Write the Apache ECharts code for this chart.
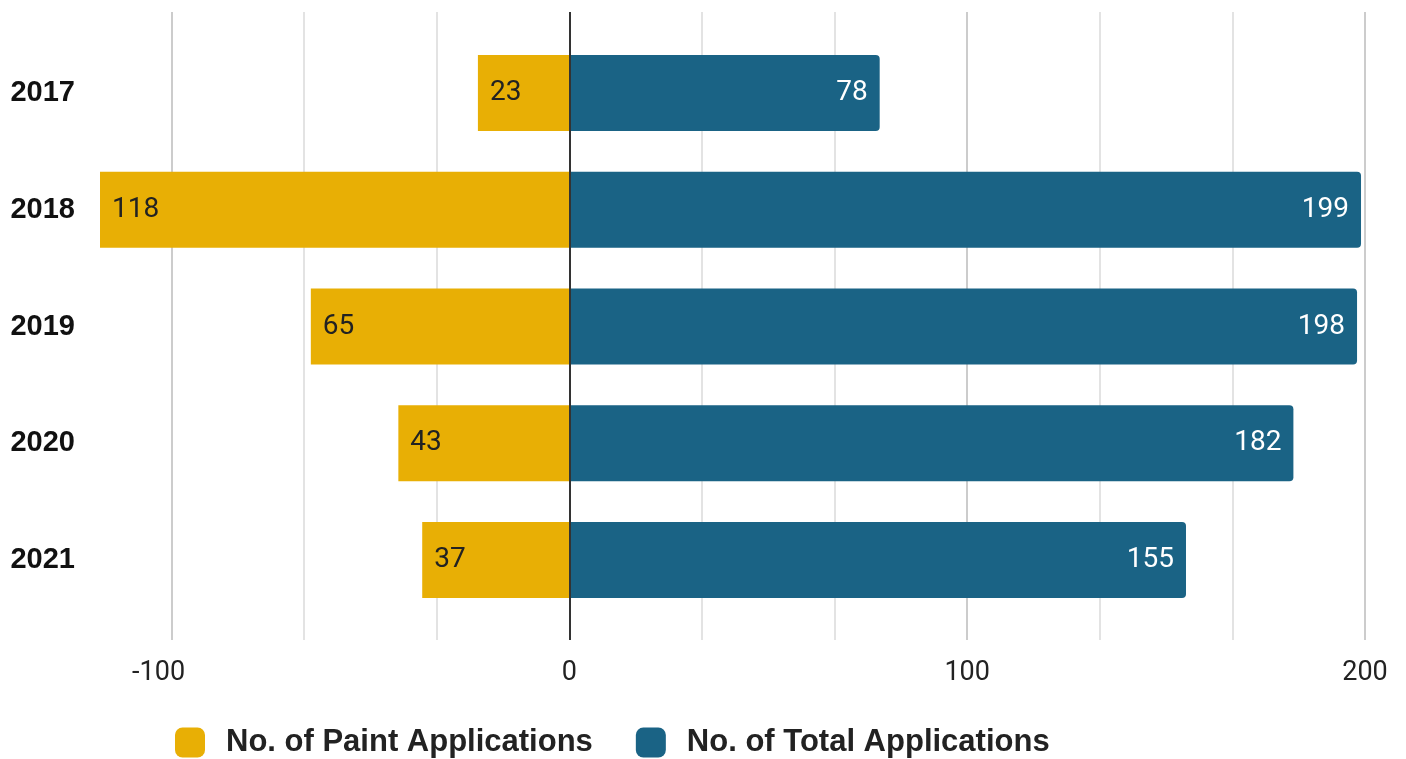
<!DOCTYPE html>
<html>
<head>
<meta charset="utf-8">
<script src="https://cdn.jsdelivr.net/npm/echarts@6/dist/echarts.min.js"></script>
<style>html,body{margin:0;padding:0;background:#fff}#c{width:1406px;height:759px}</style>
</head>
<body>
<div id="c"></div>
<script>
const years = ['2017', '2018', '2019', '2020', '2021'];
const paintApps = [23, 118, 65, 43, 37];
const totalApps = [78, 199, 198, 182, 155];
const majorTicks = [-100, 0, 100, 200];
const gridTicks = [-100, -200 / 3, -100 / 3, 0, 100 / 3, 200 / 3, 100, 400 / 3, 500 / 3, 200];

const xMin = -118, xMax = 200;
const chart = echarts.init(document.getElementById('c'));
chart.setOption({
  animation: false,
  grid: [
    { left: 100, right: 41, top: 34.6, bottom: 140.6, containLabel: false },
    { left: 100, right: 41, top: 12, bottom: 119, containLabel: false }
  ],
  legend: {
    data: ['No. of Paint Applications', 'No. of Total Applications'],
    left: 175, top: 727, padding: 0,
    itemWidth: 30, itemHeight: 30, itemGap: 43,
    icon: 'roundRect',
    textStyle: { fontFamily: 'Liberation Sans', fontWeight: 'bold', fontSize: 31, color: '#222', padding: [0, 0, 0, 16] }
  },
  xAxis: [
    { gridIndex: 0, type: 'value', min: xMin, max: xMax, show: false },
    {
      gridIndex: 1, type: 'value', min: xMin, max: xMax,
      axisLine: { show: false }, axisTick: { show: false, customValues: gridTicks },
      axisLabel: { customValues: majorTicks, margin: 20, fontFamily: 'Roboto', fontSize: 27, color: '#222',
        formatter: v => v < 0 ? '{neg|' + v + '}' : '' + v,
        rich: { neg: { fontFamily: 'Roboto', fontSize: 27, color: '#222', padding: [0, 26, 0, 0] } } },
      splitLine: { show: true, showMinLine: true, lineStyle: { color: ['#cccccc', '#e3e3e3', '#e3e3e3'], width: 2 } }
    }
  ],
  yAxis: [
    {
      gridIndex: 0, type: 'category', data: years, inverse: true,
      axisLine: { show: false, onZero: false }, axisTick: { show: false },
      axisLabel: { margin: 25, fontFamily: 'Liberation Sans', fontWeight: 'bold', fontSize: 29, color: '#111' }
    },
    { gridIndex: 1, type: 'value', min: 0, max: 1, show: false }
  ],
  series: [
    {
      name: 'No. of Paint Applications', type: 'bar', stack: 'a', xAxisIndex: 0, yAxisIndex: 0,
      data: paintApps.map(v => -v), barWidth: '65%',
      itemStyle: { color: '#E8AF05' },
      label: { show: true, position: 'insideLeft', distance: 12, formatter: p => Math.abs(p.value),
        fontFamily: 'Roboto', fontSize: 28, color: '#222' }
    },
    {
      name: 'No. of Total Applications', type: 'bar', stack: 'a', xAxisIndex: 0, yAxisIndex: 0,
      data: totalApps, barWidth: '65%',
      itemStyle: { color: '#1A6385', borderRadius: [0, 4, 4, 0] },
      label: { show: true, position: 'insideRight', distance: 12,
        fontFamily: 'Roboto', fontSize: 28, color: '#fff' }
    },
    {
      name: 'zero', type: 'line', xAxisIndex: 1, yAxisIndex: 1, data: [[0, 0]],
      symbol: 'none', lineStyle: { opacity: 0 }, silent: true, z: 10,
      markLine: { silent: true, symbol: 'none', label: { show: false }, z: 10,
        lineStyle: { color: '#333', width: 2, type: 'solid' }, data: [{ xAxis: 0 }] }
    }
  ]
});
</script>
</body>
</html>
